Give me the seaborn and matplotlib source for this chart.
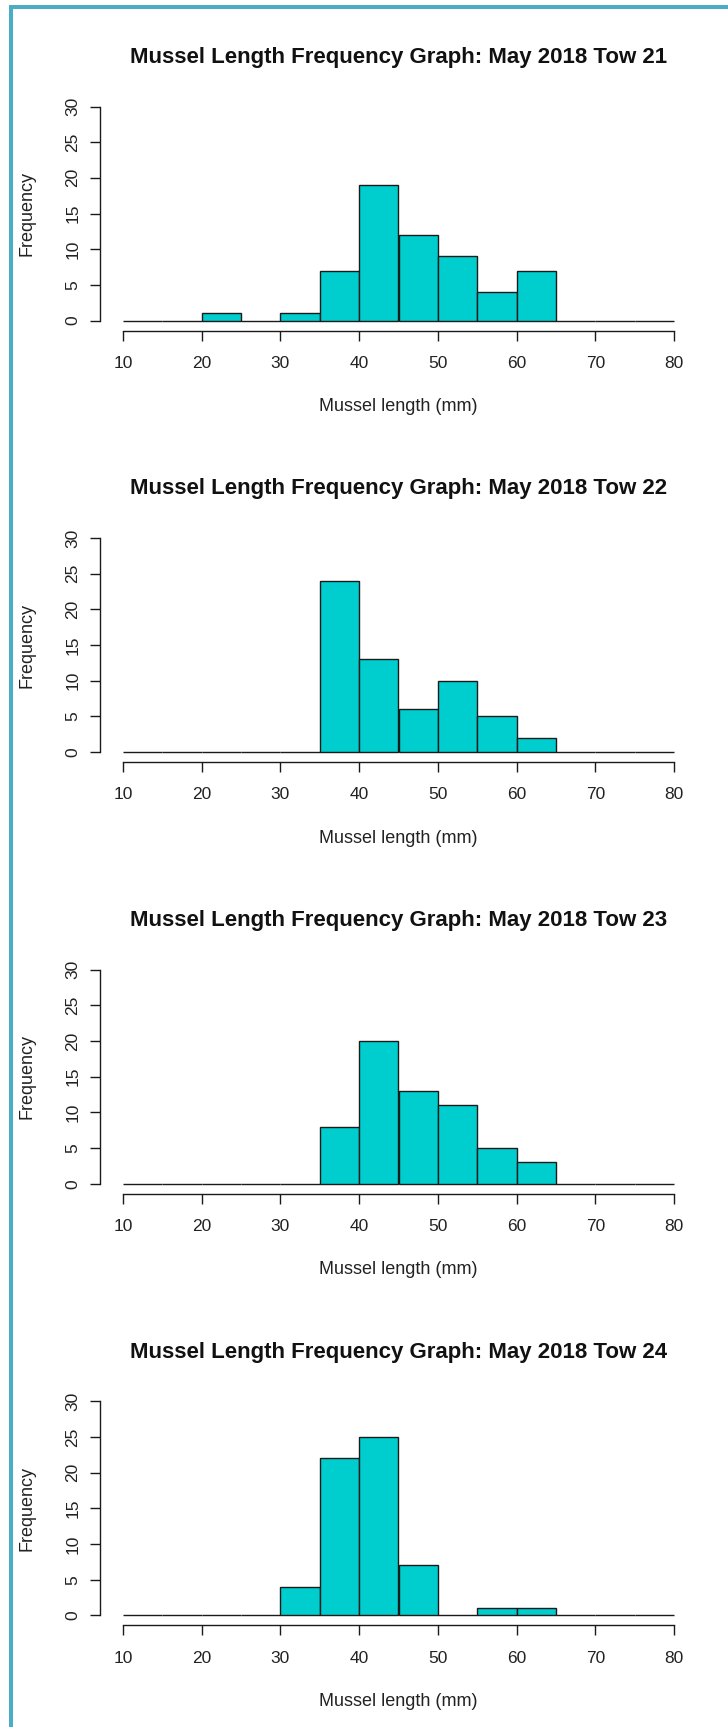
import numpy as np
import pandas as pd
import matplotlib
matplotlib.use("Agg")
import matplotlib.pyplot as plt
import seaborn as sns
from matplotlib.lines import Line2D

# Histogram data (5 mm bins from 10 to 80 mm)
bin_edges = list(range(10, 85, 5))
tows = ["21", "22", "23", "24"]
counts_21 = [0, 0, 1, 0, 1, 7, 19, 12, 9, 4, 7, 0, 0, 0]
counts_22 = [0, 0, 0, 0, 0, 24, 13, 6, 10, 5, 2, 0, 0, 0]
counts_23 = [0, 0, 0, 0, 0, 8, 20, 13, 11, 5, 3, 0, 0, 0]
counts_24 = [0, 0, 0, 0, 4, 22, 25, 7, 0, 1, 1, 0, 0, 0]
all_counts = [counts_21, counts_22, counts_23, counts_24]
x_ticks = [10, 20, 30, 40, 50, 60, 70, 80]
y_ticks = [0, 5, 10, 15, 20, 25, 30]

sns.set_style("ticks")
plt.rcParams["font.family"] = ["Liberation Sans", "DejaVu Sans"]

W, H = 728, 1727
fig = plt.figure(figsize=(W / 100, H / 100), dpi=100)
fig.patch.set_facecolor("white")

text_col = "#222222"
bar_col = "#00CDCD"
mids = [(a + b) / 2 for a, b in zip(bin_edges[:-1], bin_edges[1:])]

for k, (tow, counts) in enumerate(zip(tows, all_counts)):
    top = 106.5 + 431.6 * k
    ax_h = 214
    ax = fig.add_axes([123 / W, 1 - (top + ax_h) / H, 551 / W, ax_h / H])
    df = pd.DataFrame({"length": mids, "count": counts})
    sns.histplot(data=df, x="length", weights="count", bins=bin_edges,
                 color=bar_col, edgecolor="#1a1a1a", linewidth=1.0, alpha=1,
                 ax=ax)
    for p in ax.patches:
        p.set_clip_on(False)

    ax.set_xlim(10, 80)
    ax.set_ylim(0, 30)
    ax.set_xticks(x_ticks)
    ax.set_yticks(y_ticks)
    ax.set_xticklabels([str(t) for t in x_ticks])
    ax.set_yticklabels([str(t) for t in y_ticks])

    for s in ["top", "right"]:
        ax.spines[s].set_visible(False)
    ax.spines["left"].set_position(("outward", 16.5))
    ax.spines["bottom"].set_position(("outward", 7.2))
    ax.spines["left"].set_bounds(0, 30)
    ax.spines["bottom"].set_bounds(10, 80)
    for s in ["left", "bottom"]:
        ax.spines[s].set_linewidth(1.0)
        ax.spines[s].set_color("#1a1a1a")

    ax.tick_params(axis="both", direction="out", length=7.2, width=1.0,
                   color="#1a1a1a", labelcolor=text_col, labelsize=12.5,
                   left=True, bottom=True)
    ax.tick_params(axis="x", pad=11)
    ax.tick_params(axis="y", pad=7, labelrotation=90)
    for lab in ax.get_yticklabels():
        lab.set_verticalalignment("center")

    ax.set_title(f"Mussel Length Frequency Graph: May 2018 Tow {tow}",
                 fontsize=16, fontweight="bold", color="#111111", pad=31.5)
    ax.set_xlabel("Mussel length (mm)", fontsize=13, color=text_col)
    ax.set_ylabel("Frequency", fontsize=13, color=text_col)
    ax.xaxis.set_label_coords(0.5, -86 / ax_h)
    ax.xaxis.label.set_verticalalignment("center")
    ax.yaxis.set_label_coords((27 - 123) / 551, 0.5)
    ax.yaxis.label.set_verticalalignment("center")

# Blue frame on the left and top edges
frame_col = "#4BACC6"
fig.add_artist(Line2D([11 / W, 11 / W], [0, 1 - 5 / H], transform=fig.transFigure,
                      color=frame_col, linewidth=4 * 0.72, solid_capstyle="butt"))
fig.add_artist(Line2D([9 / W, 1], [1 - 7 / H, 1 - 7 / H], transform=fig.transFigure,
                      color=frame_col, linewidth=4 * 0.72, solid_capstyle="butt"))

fig.savefig("out.png", dpi=100, facecolor="white")
